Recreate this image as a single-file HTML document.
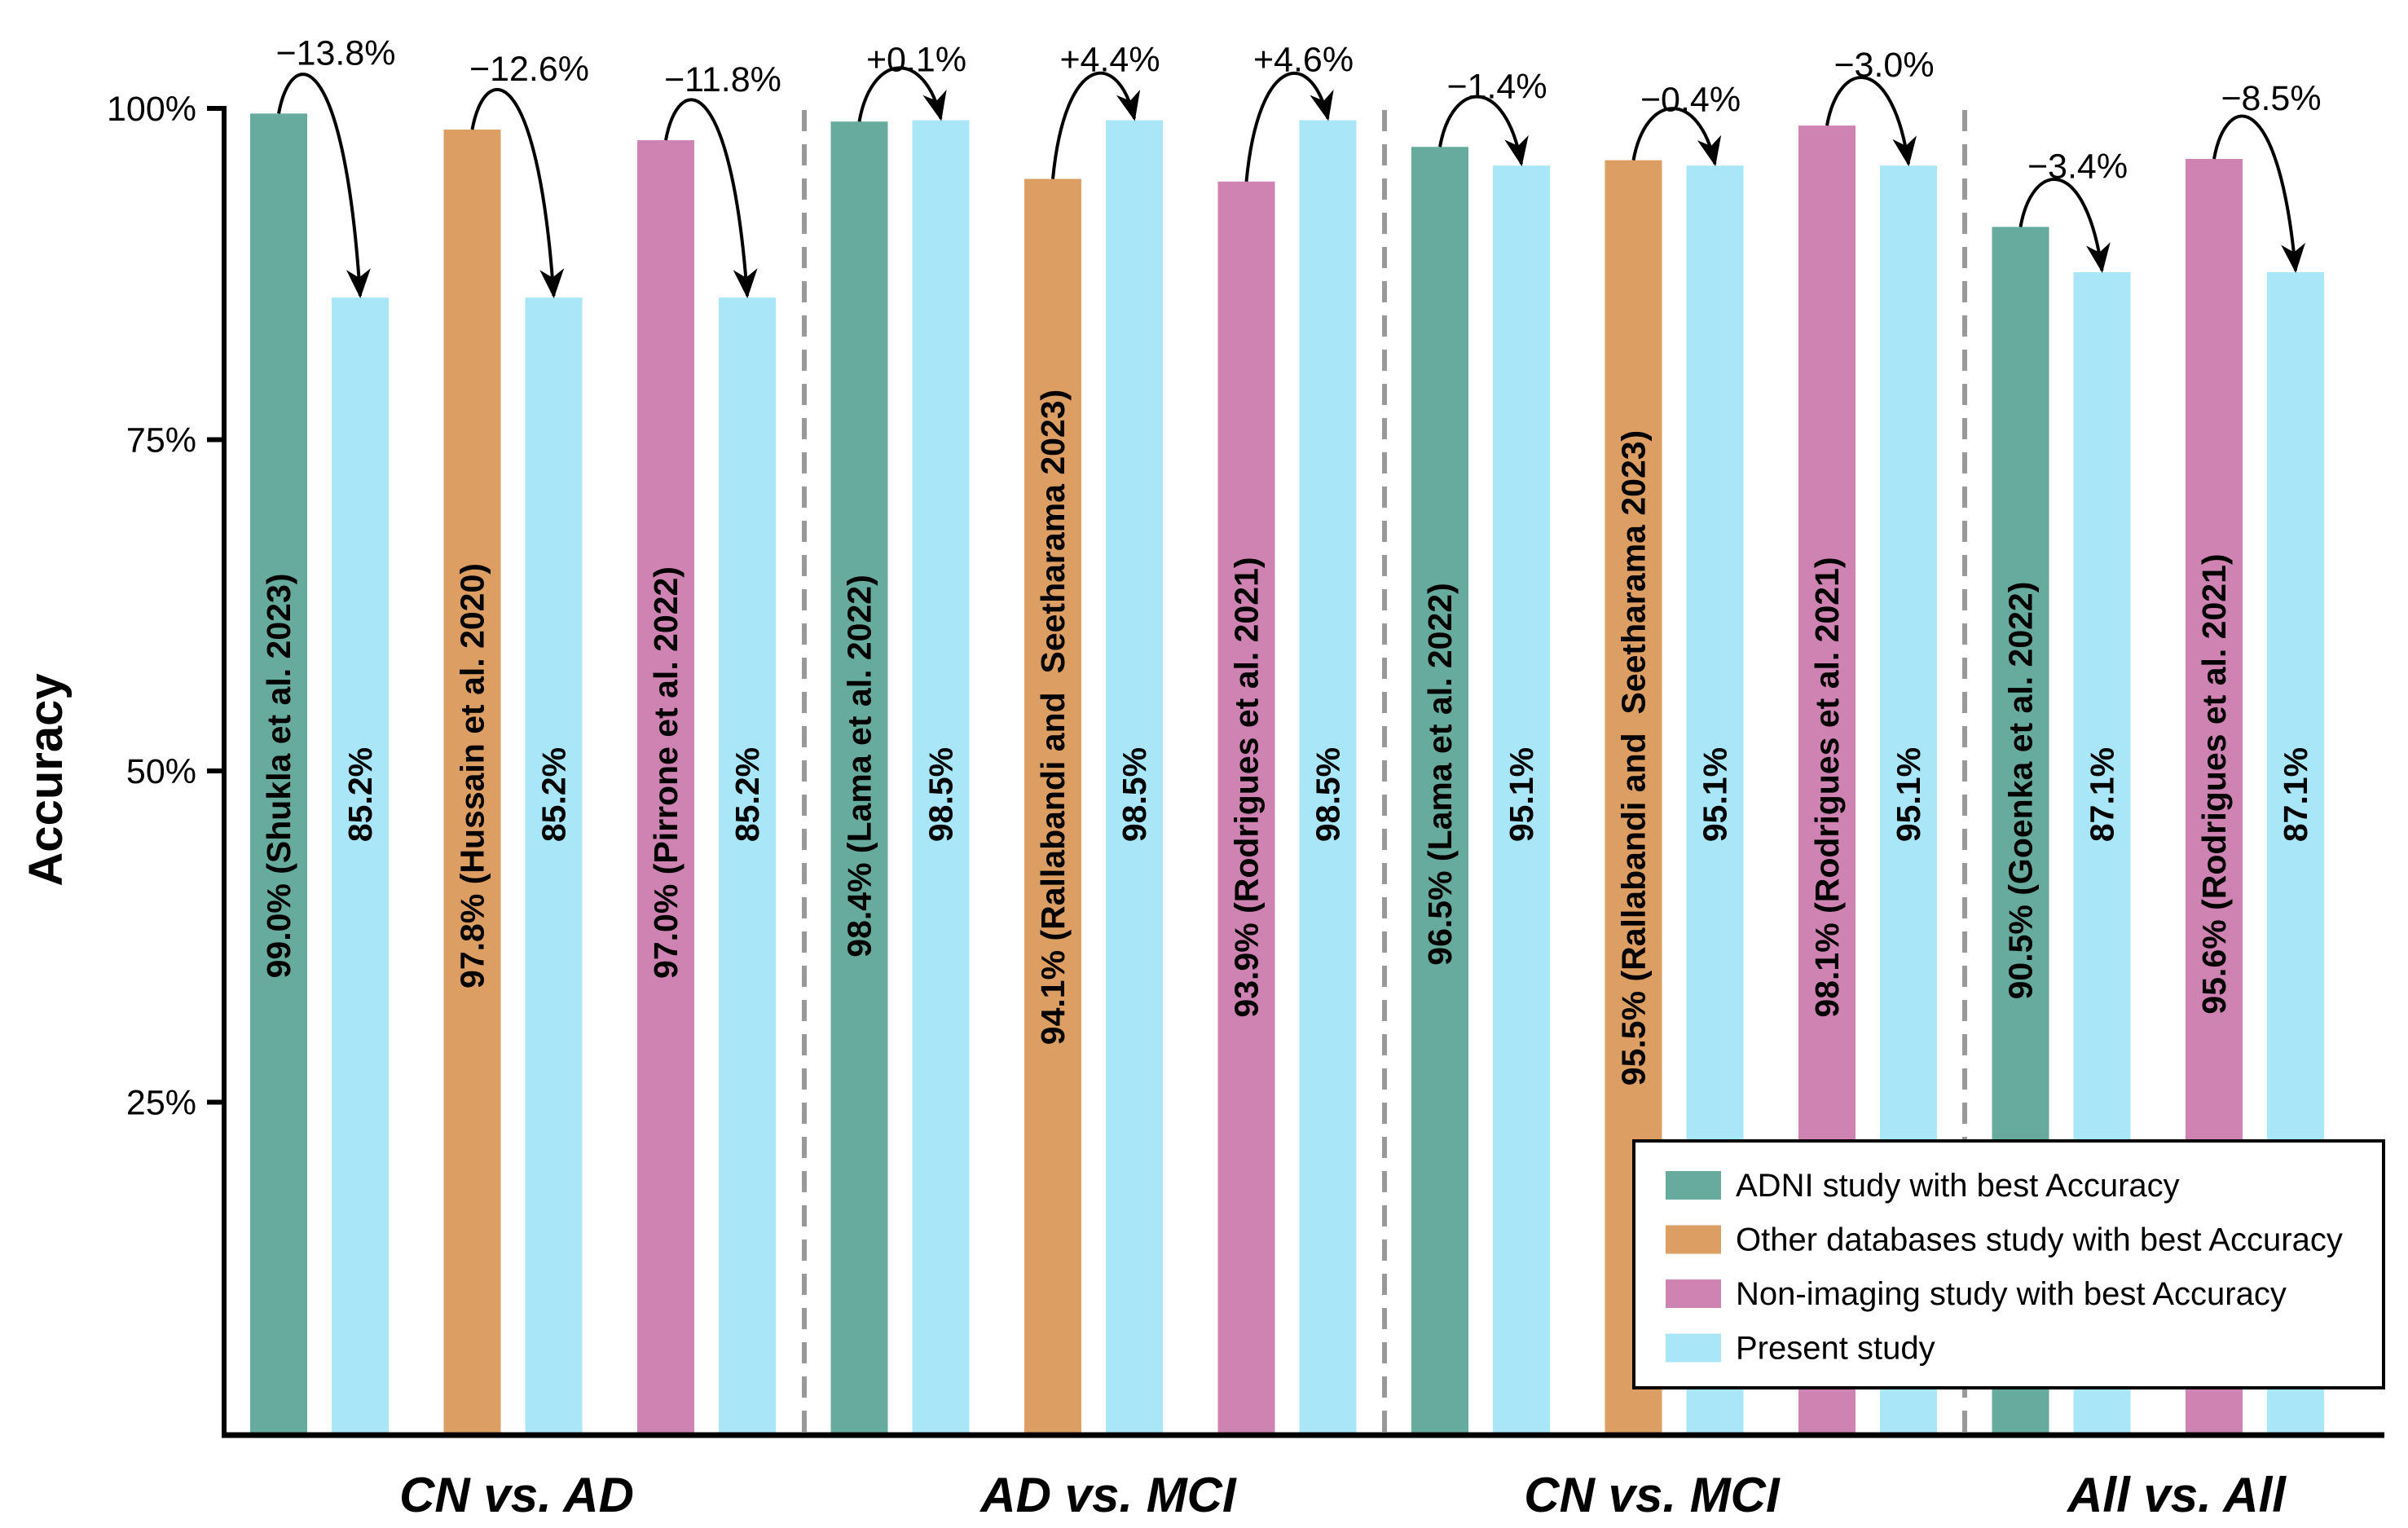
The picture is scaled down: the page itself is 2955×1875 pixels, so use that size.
<!DOCTYPE html>
<html><head><meta charset="utf-8"><style>
html,body{margin:0;padding:0;background:#fff;}
svg{display:block;font-family:"Liberation Sans",Arial,sans-serif;}
</style></head><body>
<svg id="chart" width="2955" height="1875" viewBox="0 0 2955 1875" xmlns="http://www.w3.org/2000/svg">
<defs>
<marker id="ah2" viewBox="0 0 12 10" refX="11" refY="5" markerWidth="40" markerHeight="30" markerUnits="userSpaceOnUse" orient="auto"><path d="M0,0 L12,5 L0,10 L3.5,5 z" fill="#000"/></marker></defs>
<g id="plot"></g>
</svg>
<script>
const groups = ["CN vs. AD","AD vs. MCI","CN vs. MCI","All vs. All"];
const compValues = [99.0,97.8,97.0,98.4,94.1,93.9,96.5,95.5,98.1,90.5,95.6];
const compTypes = ["adni","other","nonimg","adni","other","nonimg","adni","other","nonimg","adni","nonimg"];
const compLabels = ["99.0% (Shukla et al. 2023)","97.8% (Hussain et al. 2020)","97.0% (Pirrone et al. 2022)","98.4% (Lama et al. 2022)","94.1% (Rallabandi and\u00a0 Seetharama 2023)","93.9% (Rodrigues et al. 2021)","96.5% (Lama et al. 2022)","95.5% (Rallabandi and\u00a0 Seetharama 2023)","98.1% (Rodrigues et al. 2021)","90.5% (Goenka et al. 2022)","95.6% (Rodrigues et al. 2021)"];
const presentValues = [85.2,85.2,85.2,98.5,98.5,98.5,95.1,95.1,95.1,87.1,87.1];
const presentLabels = ["85.2%","85.2%","85.2%","98.5%","98.5%","98.5%","95.1%","95.1%","95.1%","87.1%","87.1%"];
const deltaLabels = ["\u221213.8%","\u221212.6%","\u221211.8%","+0.1%","+4.4%","+4.6%","\u22121.4%","\u22120.4%","\u22123.0%","\u22123.4%","\u22128.5%"];
const yTicks = [25,50,75,100];
const legendNames = ["ADNI study with best Accuracy","Other databases study with best Accuracy","Non-imaging study with best Accuracy","Present study"];

const colors = {adni:"#67ab9f",other:"#dd9e63",nonimg:"#cf83b3",present:"#a8e6f8"};
const NS="http://www.w3.org/2000/svg";
const g=document.getElementById('plot');
function el(tag,attrs,parent){const e=document.createElementNS(NS,tag);for(const k in attrs)e.setAttribute(k,attrs[k]);(parent||g).appendChild(e);return e;}
const y0=1759, pxPer=16.26, barPx=16.36;
function yS(v){return y0-v*pxPer;}
function yB(v){return y0-v*barPx;}
function xPair(i){return 307+i*237.5;}
const bw=70, off=100;

[987,1699,2411].forEach((x,i)=>{
  const d=el('line',{x1:x,x2:x,y1:135,y2:1759,stroke:"#999",'stroke-width':6,'stroke-dasharray':"26,16"});
  
  
});

const centersY=[952,952,948,940,880,966,950,930,966,970,962];
compValues.forEach((v,i)=>{
  const x=xPair(i);
  const r=el('rect',{x:x,y:yB(v),width:bw,height:y0-yB(v),fill:colors[compTypes[i]]});
  
  
  const p=presentValues[i];
  const r2=el('rect',{x:x+off,y:yB(p),width:bw,height:y0-yB(p),fill:colors.present});
  
  
  const cx=x+bw/2, cy=centersY[i];
  const t=el('text',{x:0,y:0,transform:`translate(${cx+14},${cy}) rotate(-90)`,'text-anchor':'middle','font-size':41,'font-weight':'bold',fill:'#000'});
  t.textContent=compLabels[i];
  
  
  const t2=el('text',{x:0,y:0,transform:`translate(${cx+off+14},975) rotate(-90)`,'text-anchor':'middle','font-size':41,'font-weight':'bold',fill:'#000'});
  t2.textContent=presentLabels[i];
  
  
  const sx=cx, sy=yB(v), ex=cx+off, ey=yB(p);
  const py=Math.min(sy,ey)-48;
  const path=el('path',{d:`M${sx},${sy} C${sx+15},${py-35} ${ex-20},${py-40} ${ex},${ey-2}`,fill:'none',stroke:'#000','stroke-width':4,'marker-end':'url(#ah2)'});
  
  
  const dl=el('text',{x:(sx+ex)/2+20,y:py-12,'text-anchor':'middle','font-size':43,fill:'#000'});
  dl.textContent=deltaLabels[i];
  
  
});

const ya=el('line',{x1:275,x2:275,y1:130,y2:1764,stroke:'#000','stroke-width':6});


const xa=el('line',{x1:272,x2:2926,y1:1761,y2:1761,stroke:'#000','stroke-width':7});


yTicks.forEach(v=>{
  const tk=el('line',{x1:254,x2:276,y1:yS(v),y2:yS(v),stroke:'#000','stroke-width':6});
  
  
  const tl=el('text',{x:241,y:yS(v)+15,'text-anchor':'end','font-size':43,fill:'#000'});
  tl.textContent=v+'%';
  
  
});
const yt=el('text',{x:0,y:0,transform:'translate(76,957) rotate(-90)','text-anchor':'middle','font-size':58,'font-weight':'bold',fill:'#000'});
yt.textContent='Accuracy';


[634,1360,2027,2671].forEach((x,i)=>{
  const gl=el('text',{x:x,y:1855,'text-anchor':'middle','font-size':60,'font-weight':'bold','font-style':'italic',fill:'#000'});
  gl.textContent=groups[i];
  
  
});

const lg=el('g',{});


const lb=el('rect',{x:2005,y:1400,width:920,height:303,fill:'#fff',stroke:'#000','stroke-width':4},lg);


const lc=[colors.adni,colors.other,colors.nonimg,colors.present];
legendNames.forEach((n,i)=>{
  const top=1437+i*66.5;
  const s=el('rect',{x:2044,y:top,width:68,height:35,fill:lc[i]},lg);
  
  
  const t=el('text',{x:2130,y:top+31,'font-size':40,fill:'#000'},lg);
  t.textContent=n;
  
  
});
</script>
</body></html>
